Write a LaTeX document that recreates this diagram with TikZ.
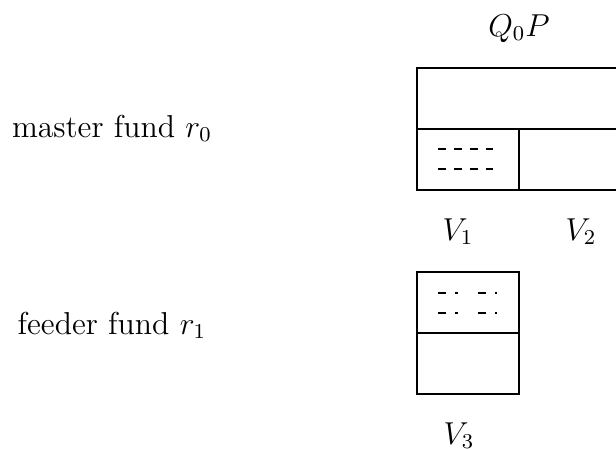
\documentclass[tikz,border=0pt]{standalone}
\usetikzlibrary{positioning}
\begin{document}
\begin{tikzpicture}[
        x=0.0133cm, y=-0.0133cm,
        fund/.style={font=\large, anchor=base},
        vol/.style={font=\large, anchor=base},
        share/.style={draw, thin},
        slot/.style={dashed},
        slotmix/.style={dash pattern=on 3pt off 3.4pt on 1pt off 7.6pt}
    ]
    \useasboundingbox (0,0) rectangle (616,448);

    % Fund labels
    \node[fund] (master) at (112,137) {master fund $r_0$};
    \node[fund] (feeder) at (112,334) {feeder fund $r_1$};

    % Master fund block
    \node[vol] (qp) at (519,36) {$Q_0P$};
    \draw[share] (417,68) rectangle (621,190);
    \draw[share] (417,129) -- (621,129);
    \draw[share] (519,129) -- (519,190);
    \draw[slot] (438,149) -- (498,149);
    \draw[slot] (438,169) -- (498,169);
    \node[vol] (v1) at (458,240) {$V_1$};
    \node[vol] (v2) at (581,240) {$V_2$};

    % Feeder fund block
    \draw[share] (417,272) rectangle (519,394);
    \draw[share] (417,333) -- (519,333);
    \draw[slotmix] (438,293) -- (499,293);
    \draw[slotmix] (438,313) -- (499,313);
    \node[vol] (v3) at (459,444) {$V_3$};

\end{tikzpicture}
\end{document}
